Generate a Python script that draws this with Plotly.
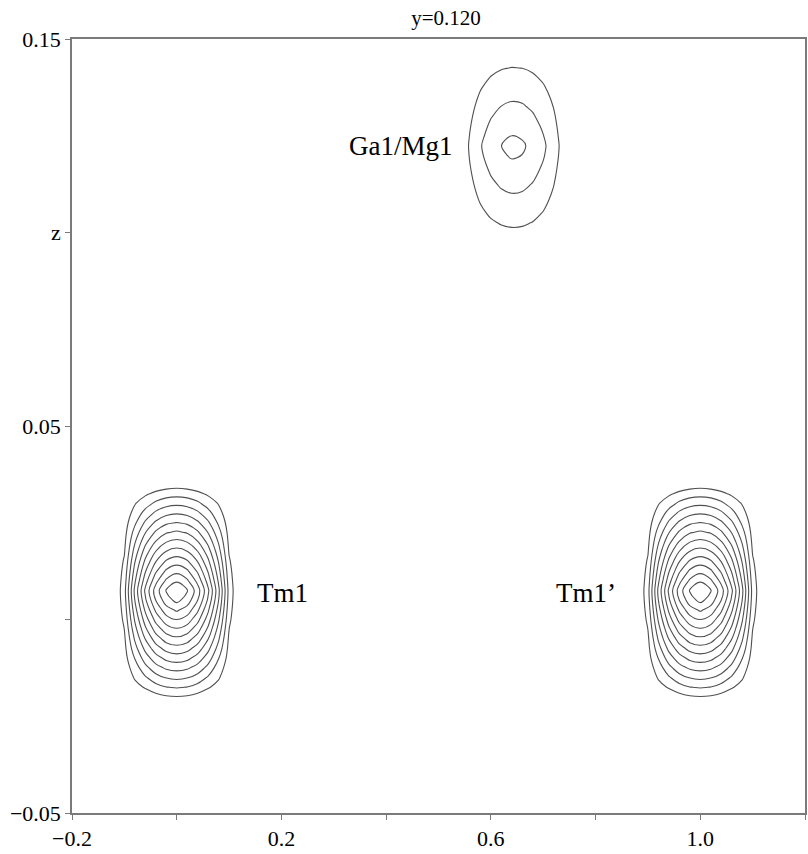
import numpy as np
import plotly.graph_objects as go

# Difference-Fourier section at y = 0.120: atomic peaks in the x-z plane
atom_names = ["Tm1", "Tm1\u2019", "Ga1/Mg1"]
atom_x = [0.0, 1.0, 0.644]
atom_z = [0.007, 0.007, 0.122]
peak_height = [13.2, 13.2, 3.35]
half_width_x = [0.108, 0.108, 0.107]
half_width_z = [0.0291, 0.0291, 0.0295]

# label anchors (data coordinates) and which side of the text sits on the anchor
label_x = [0.149, 0.842, 0.532]
label_z = [0.0068, 0.0068, 0.1223]
label_anchor = ["left", "right", "right"]

section_title = "y=0.120"
x_tickvals = [-0.2, 0.0, 0.2, 0.4, 0.6, 0.8, 1.0, 1.2]
x_ticktext = ["\u22120.2", "", "0.2", "", "0.6", "", "1.0", "x"]
z_tickvals = [-0.05, 0.0, 0.05, 0.10, 0.15]
z_ticktext = ["\u22120.05", "", "0.05", "z", "0.15"]

# map grid
gx = np.arange(-0.2, 1.2 + 1e-9, 0.02)
gz = np.arange(-0.05, 0.15 + 1e-9, 0.0025)
X, Z = np.meshgrid(gx, gz)
rho = np.zeros_like(X)
for x0, z0, p, a, b in zip(atom_x, atom_z, peak_height, half_width_x, half_width_z):
    u = np.clip(np.abs(X - x0) / a, 0, 1)
    v = np.clip(np.abs(Z - z0) / b, 0, 1)
    box = (1 - u ** 2) * (1 - v)
    oval = np.clip(1 - np.sqrt(u ** 2 + v ** 2), 0, 1)
    rho += p * (0.75 * box + 0.25 * oval)

fig = go.Figure()
fig.add_trace(go.Contour(
    x=gx, y=gz, z=rho,
    contours=dict(start=1, end=12, size=1, coloring="lines"),
    line=dict(color="#505050", width=1.1),
    colorscale=[[0, "#505050"], [1, "#505050"]],
    showscale=False,
    hoverinfo="skip",
))

for name, lx, lz, anc in zip(atom_names, label_x, label_z, label_anchor):
    fig.add_annotation(
        x=lx, y=lz, text=name, showarrow=False, xanchor=anc, yanchor="middle",
        font=dict(family="Liberation Serif", size=27, color="black"),
    )

axis_common = dict(
    showgrid=False, zeroline=False, showline=True, mirror=True,
    linecolor="#7a7a7a", linewidth=1.5,
    ticks="outside", ticklen=5, tickcolor="#7a7a7a", tickwidth=1,
    tickfont=dict(family="Liberation Serif", size=22, color="black"),
)

fig.update_layout(
    width=808, height=854,
    margin=dict(l=72, r=1, t=39, b=41),
    paper_bgcolor="white", plot_bgcolor="white",
    title=dict(text=section_title, x=0.552, xanchor="center", y=0.979, yanchor="middle",
               font=dict(family="Liberation Serif", size=21, color="black")),
    xaxis=dict(range=[-0.2, 1.2], tickvals=x_tickvals, ticktext=x_ticktext, **axis_common),
    yaxis=dict(range=[-0.05, 0.15], tickvals=z_tickvals, ticktext=z_ticktext, **axis_common),
    showlegend=False,
)

fig.write_html("out.html")
